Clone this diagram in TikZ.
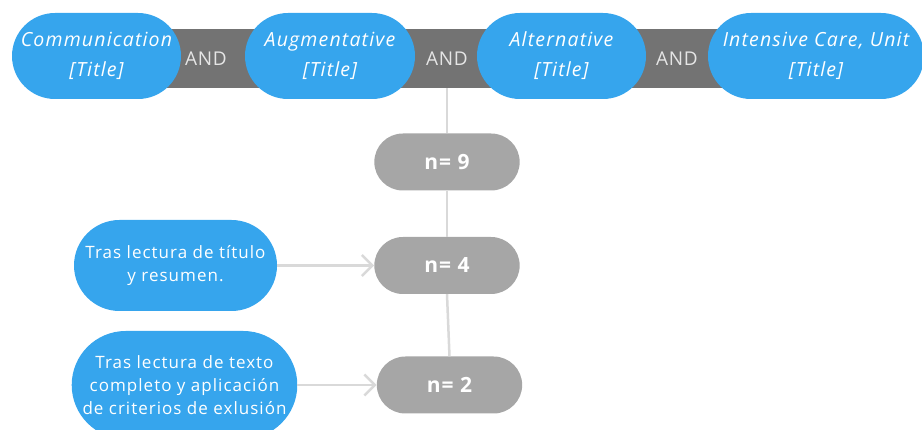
\documentclass[tikz,border=0pt]{standalone}
\usepackage{fontspec}
\setmainfont{Open Sans}
\usepackage{tikz}
\usetikzlibrary{positioning, shapes.misc, arrows.meta}
\definecolor{pillBlue}{RGB}{54, 165, 237}
\definecolor{pillGray}{RGB}{166, 166, 166}
\definecolor{barGray}{RGB}{115, 115, 115}
\definecolor{lineGray}{RGB}{217, 217, 217}
\tikzset{
    term/.style={
        rounded rectangle,
        fill=pillBlue,
        text=white,
        align=center,
        minimum height=86pt,
        inner sep=2pt,
        font=\fontsize{19.5}{30}\selectfont\itshape\addfontfeatures{LetterSpace=6}
    },
    note/.style={
        rounded rectangle,
        fill=pillBlue,
        text=white,
        align=center,
        inner sep=2pt,
        font=\fontsize{17}{23}\selectfont\addfontfeatures{LetterSpace=6}
    },
    count/.style={
        rounded rectangle,
        fill=pillGray,
        text=white,
        minimum width=152pt,
        minimum height=57pt,
        font=\fontsize{21}{25}\selectfont\bfseries\addfontfeatures{LetterSpace=5}
    },
    andlabel/.style={
        text=white!90!black,
        font=\fontsize{19}{22}\selectfont\addfontfeatures{LetterSpace=4}
    },
    link/.style={
        lineGray,
        line width=2.5pt
    },
    flow/.style={
        link,
        -{Straight Barb[length=7pt, width=14pt, line width=2.5pt, scale=1.5]}
    }
}
\begin{document}
\begin{tikzpicture}[x=1pt, y=-1pt]
    \useasboundingbox (0,0) rectangle (922,430);

    % search bar
    \node[fill=barGray, minimum width=610pt, minimum height=59pt, inner sep=0pt] (bar) at (455,58.5) {};
    \node[andlabel] (and1) at (206,59) {AND};
    \node[andlabel] (and2) at (447,59) {AND};
    \node[andlabel] (and3) at (677,59) {AND};

    % search terms
    \node[term, minimum width=173pt] (comm) at (96.5,56) {Communication\\{[Title]}};
    \node[term, minimum width=174pt] (augm) at (330,56) {Augmentative\\{[Title]}};
    \node[term, minimum width=173pt] (alt) at (561.5,56) {Alternative\\{[Title]}};
    \node[term, minimum width=220pt] (icu) at (816,56) {Intensive Care, Unit\\{[Title]}};

    % results
    \node[count] (n9) at (447,162) {n= 9};
    \node[count] (n4) at (447,265.5) {n= 4};
    \node[count] (n2) at (449.5,385) {n= 2};

    % screening steps
    \node[note, minimum width=207pt, minimum height=91pt] (title) at (175.5,265.5) {Tras lectura de título\\y resumen.};
    \node[note, minimum width=223pt, minimum height=108pt] (full) at (184.5,385) {Tras lectura de texto\\completo y aplicación\\de criterios de exlusión};

    % connectors
    \draw[link] (n9.north |- bar.south) -- (n9.north);
    \draw[link] (n9.south) -- (n4.north);
    \draw[link] (n4.south) -- (n2.north);
    \draw[flow] (title.east) -- (n4.west);
    \draw[flow] (full.east) -- (n2.west);

\end{tikzpicture}
\end{document}
